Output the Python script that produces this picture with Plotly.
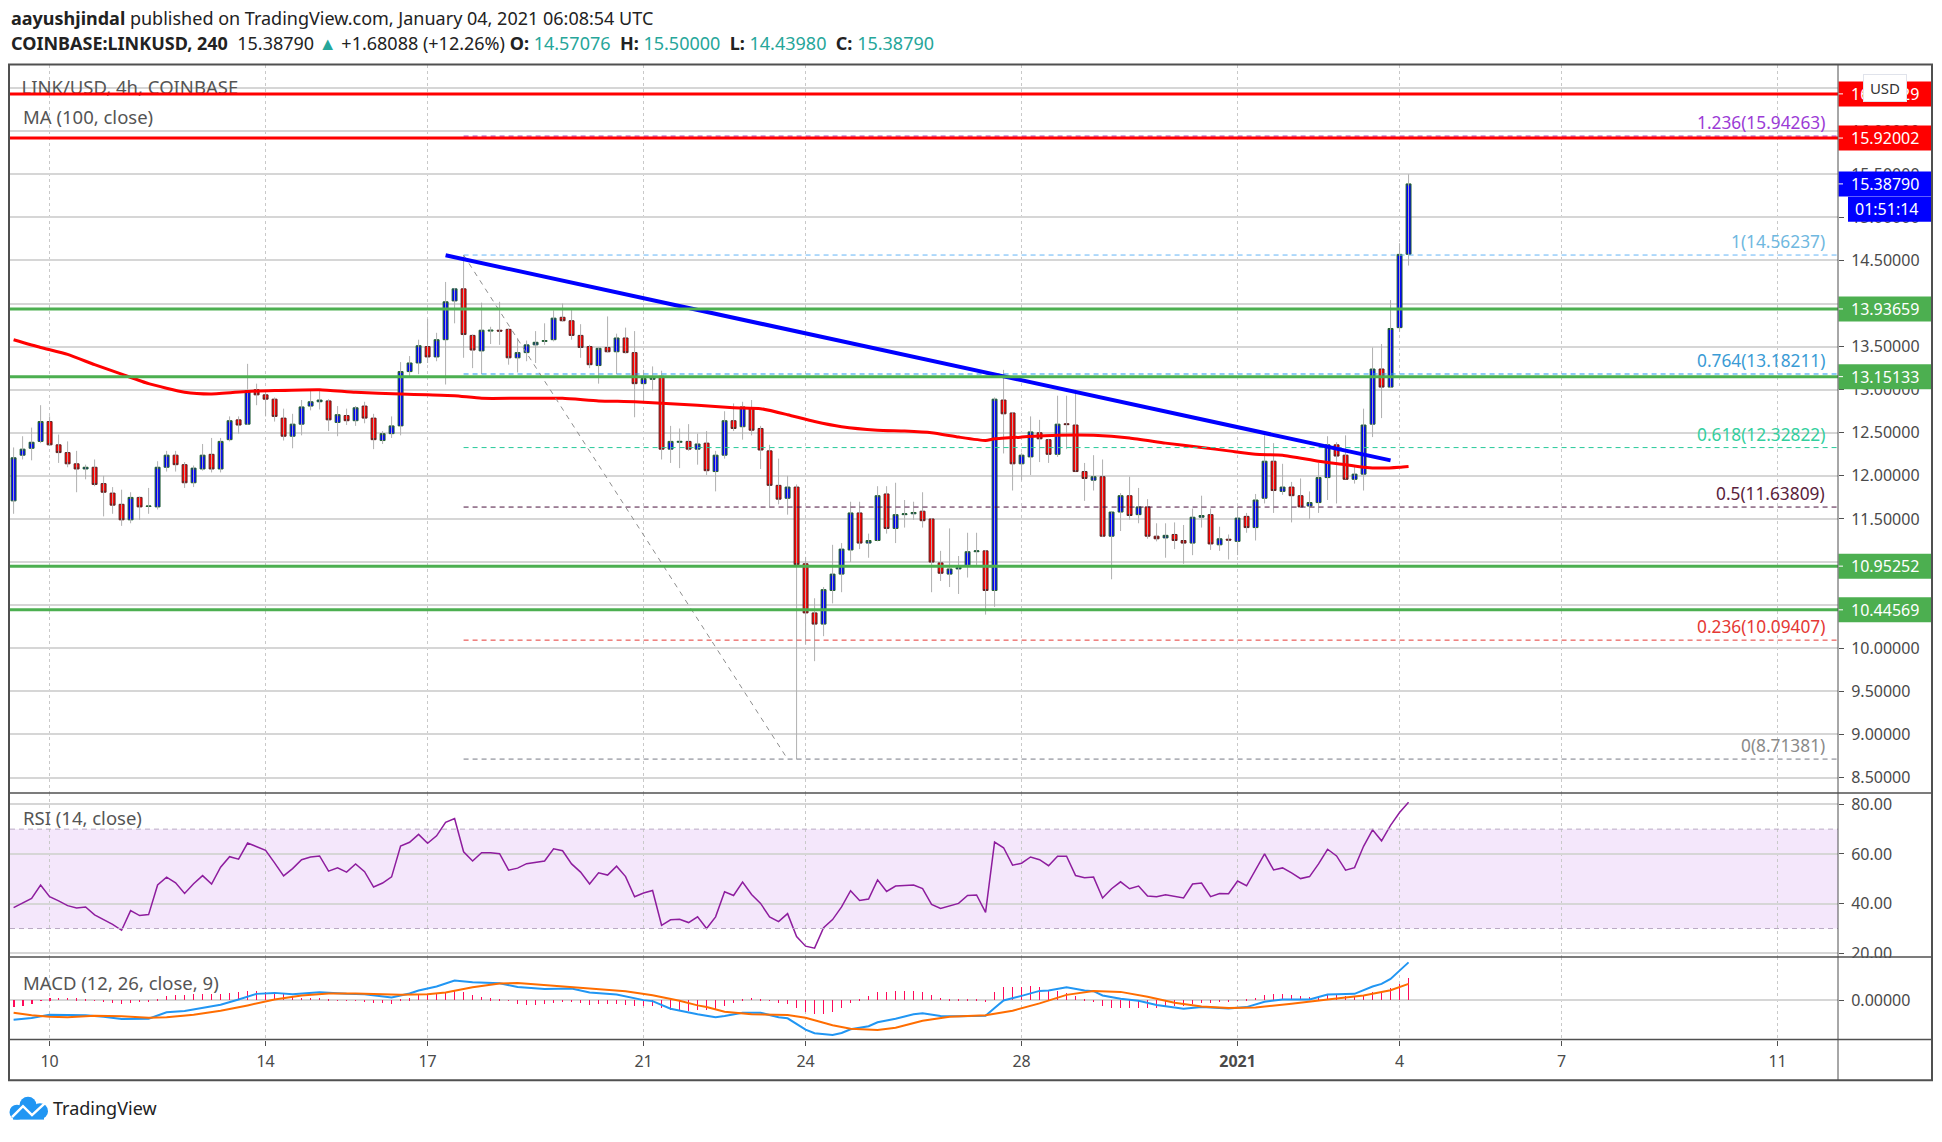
import pandas as pd
import plotly.graph_objects as go

W, H = 1942, 1142
FONT = "Noto Sans"
GREY_TEXT = "#4a4a4a"
UP_FILL, DOWN_FILL = "#0000ff", "#ff0000"
TEAL = "#26a69a"

bar_times = pd.date_range("2020-12-09 08:00", periods=156, freq="4h")

bar_open = [
    11.71, 12.24, 12.32, 12.40, 12.63, 12.36, 12.27, 12.14, 12.08, 12.10,
    11.91, 11.80, 11.67, 11.49, 11.75, 11.645, 11.64, 12.10, 12.24, 12.13,
    11.92, 12.08, 12.25, 12.08, 12.42, 12.65, 12.60, 13.00, 12.94, 12.89,
    12.67, 12.46, 12.60, 12.81, 12.86, 12.87, 12.62, 12.70, 12.64, 12.81,
    12.67, 12.41, 12.49, 12.58, 13.21, 13.31, 13.50, 13.38, 13.58, 14.03,
    14.17, 13.63, 13.45, 13.68, 13.69, 13.70, 13.37, 13.43, 13.52, 13.56,
    13.58, 13.84, 13.80, 13.63, 13.50, 13.28, 13.49, 13.44, 13.60, 13.43,
    13.07, 13.12, 13.155, 12.31, 12.39, 12.40, 12.31, 12.38, 12.05, 12.24,
    12.64, 12.57, 12.79, 12.55, 12.29, 11.89, 11.74, 11.87, 10.98, 10.41,
    10.28, 10.67, 10.86, 11.14, 11.57, 11.22, 11.25, 11.79, 11.39, 11.55,
    11.56, 11.59, 11.50, 10.99, 10.86, 10.92, 10.96, 11.12, 11.13, 10.67,
    12.88, 12.73, 12.14, 12.22, 12.50, 12.42, 12.25, 12.605, 12.59, 12.05,
    11.95, 11.99, 11.30, 11.58, 11.77, 11.55, 11.64, 11.30, 11.28, 11.32,
    11.25, 11.22, 11.52, 11.55, 11.20, 11.265, 11.24, 11.53, 11.40, 11.74,
    12.17, 11.82, 11.87, 11.77, 11.65, 11.69, 11.98, 12.36, 12.24, 11.96,
    12.02, 12.60, 13.24, 13.03, 13.72, 14.57076,
]
bar_high = [
    12.33, 12.46, 12.56, 12.82, 12.69, 12.48, 12.40, 12.29, 12.13, 12.19,
    12.00, 11.87, 11.84, 11.81, 11.76, 11.86, 12.17, 12.29, 12.29, 12.16,
    12.12, 12.37, 12.44, 12.44, 12.69, 12.69, 13.30, 13.07, 13.00, 12.91,
    12.78, 12.72, 12.88, 12.99, 13.00, 12.89, 12.81, 12.78, 12.81, 12.86,
    12.72, 12.52, 12.69, 13.32, 13.39, 13.58, 13.82, 13.66, 14.25, 14.18,
    14.56, 13.64, 14.01, 13.73, 14.02, 13.71, 13.60, 13.57, 13.68, 13.77,
    13.92, 14.00, 13.93, 13.76, 13.52, 13.49, 13.85, 13.65, 13.72, 13.68,
    13.23, 13.27, 13.22, 12.58, 12.55, 12.60, 12.49, 12.52, 12.29, 12.75,
    12.84, 12.86, 12.88, 12.58, 12.36, 12.20, 12.00, 11.90, 11.06, 10.58,
    10.71, 11.20, 11.22, 11.70, 11.70, 11.33, 11.88, 11.88, 11.92, 11.72,
    11.70, 11.81, 11.51, 11.13, 11.39, 11.07, 11.34, 11.34, 11.14, 12.91,
    13.23, 12.74, 12.27, 12.69, 12.65, 12.43, 12.93, 12.93, 13.00, 12.15,
    12.24, 12.19, 11.58, 11.80, 11.99, 11.86, 11.73, 11.45, 11.45, 11.46,
    11.43, 11.62, 11.77, 11.62, 11.41, 11.32, 11.64, 11.57, 11.79, 12.47,
    12.38, 12.14, 11.93, 11.97, 11.82, 12.15, 12.46, 12.39, 12.47, 12.12,
    12.78, 13.49, 13.53, 14.04, 14.70, 15.50,
]
bar_low = [
    11.56, 12.19, 12.18, 12.38, 12.35, 12.15, 12.10, 11.81, 11.96, 11.88,
    11.53, 11.56, 11.42, 11.45, 11.49, 11.56, 11.61, 12.05, 12.05, 11.86,
    11.87, 12.06, 12.04, 12.04, 12.40, 12.49, 12.59, 12.82, 12.69, 12.63,
    12.41, 12.32, 12.47, 12.76, 12.77, 12.52, 12.46, 12.59, 12.58, 12.61,
    12.31, 12.37, 12.44, 12.47, 13.14, 13.18, 13.31, 13.33, 13.06, 13.77,
    13.37, 13.25, 13.18, 13.53, 13.52, 13.29, 13.20, 13.33, 13.31, 13.52,
    13.56, 13.79, 13.58, 13.37, 13.25, 13.07, 13.43, 13.18, 13.42, 12.68,
    12.85, 12.99, 12.19, 12.15, 12.09, 12.29, 12.13, 12.01, 11.82, 12.20,
    12.52, 12.42, 12.47, 12.08, 11.63, 11.67, 11.55, 8.71, 10.04, 9.85,
    10.14, 10.52, 10.65, 11.00, 11.15, 11.05, 11.24, 11.33, 11.22, 11.40,
    11.49, 11.40, 10.65, 10.78, 10.71, 10.63, 10.82, 10.95, 10.39, 10.48,
    12.26, 11.83, 11.95, 12.01, 12.16, 12.15, 12.22, 12.31, 12.05, 11.71,
    11.83, 11.29, 10.80, 11.36, 11.49, 11.45, 11.27, 11.24, 11.05, 11.15,
    10.98, 11.08, 11.40, 11.14, 11.13, 11.03, 11.08, 11.34, 11.25, 11.68,
    11.57, 11.78, 11.46, 11.63, 11.50, 11.57, 11.72, 11.68, 11.96, 11.91,
    11.83, 12.45, 12.67, 13.02, 13.67, 14.4398,
]
bar_close = [
    12.21, 12.31, 12.39, 12.63, 12.36, 12.27, 12.14, 12.08, 12.10, 11.90,
    11.81, 11.66, 11.49, 11.75, 11.64, 11.65, 12.10, 12.24, 12.13, 11.92,
    12.09, 12.24, 12.08, 12.40, 12.64, 12.59, 12.99, 12.94, 12.89, 12.69,
    12.46, 12.60, 12.80, 12.86, 12.88, 12.65, 12.71, 12.64, 12.79, 12.67,
    12.42, 12.49, 12.58, 13.21, 13.31, 13.51, 13.38, 13.58, 14.02, 14.17,
    13.64, 13.46, 13.69, 13.69, 13.68, 13.37, 13.43, 13.52, 13.55, 13.57,
    13.83, 13.80, 13.63, 13.49, 13.29, 13.48, 13.44, 13.60, 13.43, 13.07,
    13.13, 13.14, 12.31, 12.40, 12.40, 12.31, 12.37, 12.06, 12.24, 12.64,
    12.55, 12.80, 12.53, 12.30, 11.89, 11.73, 11.87, 10.97, 10.41, 10.28,
    10.68, 10.86, 11.15, 11.57, 11.22, 11.25, 11.77, 11.39, 11.55, 11.56,
    11.575, 11.48, 11.00, 10.87, 10.92, 10.94, 11.12, 11.13, 10.67, 12.89,
    12.72, 12.14, 12.24, 12.51, 12.43, 12.25, 12.60, 12.595, 12.05, 11.97,
    11.99, 11.30, 11.58, 11.77, 11.54, 11.64, 11.30, 11.27, 11.31, 11.25,
    11.22, 11.52, 11.54, 11.21, 11.27, 11.255, 11.51, 11.40, 11.72, 12.17,
    11.83, 11.87, 11.77, 11.64, 11.69, 11.98, 12.36, 12.23, 11.96, 12.02,
    12.59, 13.24, 13.03, 13.71, 14.57, 15.3879,
]

# moving average, read where the line visibly changes direction
ma_bars = [
    0, 3, 6, 9, 12, 15, 19, 22, 26, 29, 34, 38, 43, 46, 49, 52, 56, 61, 65, 69, 76,
    80, 83, 86, 89, 92, 96, 99, 102, 105, 108, 109, 112, 116, 120, 124, 128, 132,
    135, 138, 141, 145, 148, 150, 152, 154, 155,
]
ma_values = [
    13.58, 13.49, 13.41, 13.29, 13.18, 13.07, 12.97, 12.95, 12.98, 12.99, 13.00,
    12.97, 12.95, 12.94, 12.93, 12.90, 12.90, 12.90, 12.87, 12.86, 12.82,
    12.79, 12.78, 12.71, 12.63, 12.57, 12.53, 12.52, 12.50, 12.45, 12.41, 12.43,
    12.45, 12.47, 12.47, 12.44, 12.38, 12.33, 12.29, 12.25, 12.24, 12.17, 12.13,
    12.10, 12.09, 12.10, 12.11,
]

rsi_values = [
    38.4, 40.4, 42.1, 47.5, 42.8, 41.1, 39.2, 38.3, 38.7, 35.5,
    33.7, 31.7, 29.3, 37.2, 35.2, 35.6, 47.5, 50.7, 48.4, 44.1,
    48.0, 51.3, 47.9, 54.7, 58.9, 57.9, 64.4, 62.9, 61.5, 56.4,
    51.2, 54.1, 57.7, 58.8, 59.2, 53.1, 54.4, 52.7, 56.0, 52.9,
    46.7, 48.3, 50.8, 63.2, 64.7, 67.9, 64.3, 67.3, 72.7, 74.3,
    60.9, 57.2, 60.5, 60.5, 60.1, 53.5, 54.3, 56.1, 56.7, 57.2,
    62.1, 61.3, 56.0, 52.7, 47.9, 52.4, 51.5, 55.1, 50.9, 42.8,
    44.3, 45.3, 31.3, 33.5, 33.7, 32.4, 34.7, 30.0, 34.7, 44.8,
    43.3, 48.7, 43.7, 40.1, 34.7, 32.8, 36.0, 26.8, 22.9, 22.1,
    30.3, 33.6, 38.7, 45.2, 41.3, 41.9, 49.6, 44.9, 47.1, 47.2,
    47.5, 46.1, 39.7, 38.1, 39.1, 40.1, 43.3, 43.5, 36.5, 64.8,
    62.5, 55.5, 56.3, 58.8, 57.7, 55.3, 59.1, 59.1, 51.3, 50.4,
    50.7, 42.3, 46.0, 48.8, 46.0, 47.1, 43.1, 42.8, 43.6, 42.8,
    42.3, 47.9, 48.3, 42.8, 44.1, 44.0, 49.1, 47.2, 53.6, 60.0,
    53.6, 54.4, 52.4, 50.1, 50.9, 56.0, 61.9, 59.2, 53.5, 54.5,
    63.1, 69.7, 65.3, 71.5, 76.7, 80.8,
]

macd_bars = [
    0, 2, 4, 6, 8, 10, 12, 15, 17, 19, 21, 23, 25, 27, 29, 31, 34, 37, 39, 41, 42,
    44, 45, 47, 49, 51, 54, 56, 59, 62, 64, 67, 68, 70, 71, 73, 76,
    78, 79, 81, 83, 85, 86, 88, 89, 91, 92, 93, 95, 96, 98, 100, 101, 103, 105,
    108, 109, 110, 112, 114, 115, 117, 119, 120, 121, 123, 125, 127, 130, 132,
    135, 137, 139, 141, 144, 146, 149, 151, 152, 153, 154, 155,
]
macd_values = [
    -0.197, -0.180, -0.147, -0.147, -0.153, -0.167, -0.190, -0.187, -0.123, -0.110,
    -0.080, -0.047, 0.007, 0.063, 0.073, 0.060, 0.080, 0.063, 0.060, 0.033, 0.027,
    0.067, 0.097, 0.137, 0.197, 0.180, 0.170, 0.133, 0.113, 0.117, 0.077, 0.057,
    0.037, 0.000, -0.010, -0.087, -0.143,
    -0.173, -0.160, -0.127, -0.127, -0.173, -0.183, -0.297, -0.333, -0.350, -0.330,
    -0.293, -0.263, -0.223, -0.187, -0.143, -0.133, -0.160, -0.163,
    -0.157, -0.080, -0.003, 0.043, 0.093, 0.097, 0.130, 0.097, 0.090, 0.047, 0.013,
    -0.007, -0.050, -0.087, -0.070, -0.083, -0.070, -0.017, 0.007, 0.007, 0.057,
    0.063, 0.137, 0.163, 0.213, 0.297, 0.380,
]
signal_bars = [
    0, 2, 4, 6, 9, 12, 15, 17, 20, 23, 26, 29, 32, 35, 38, 41, 43, 46, 48, 51, 54,
    56, 60, 64, 68, 71, 74, 76, 77, 79, 82, 86, 88, 91, 93, 96, 98, 101, 104, 108,
    111, 114, 117, 120, 123, 126, 129, 132, 135, 138, 142, 146, 150, 153, 155,
]
signal_values = [
    -0.127, -0.153, -0.167, -0.173, -0.157, -0.163, -0.177, -0.173, -0.147, -0.107,
    -0.053, 0.007, 0.047, 0.067, 0.067, 0.060, 0.053, 0.060, 0.077, 0.130, 0.167,
    0.173, 0.143, 0.113, 0.090, 0.050, -0.007, -0.053, -0.070, -0.117, -0.143,
    -0.150, -0.177, -0.253, -0.287, -0.300, -0.277, -0.207, -0.167, -0.153,
    -0.107, -0.033, 0.053, 0.093, 0.083, 0.033, -0.027, -0.063, -0.080, -0.073,
    -0.037, 0.007, 0.047, 0.100, 0.163,
]
hist_values = [
    -0.070, -0.057, -0.037, -0.003, 0.017, 0.023, 0.023, 0.020, 0.010, -0.007,
    -0.017, -0.027, -0.037, -0.030, -0.023, -0.013, 0.010, 0.043, 0.053, 0.053,
    0.057, 0.063, 0.063, 0.063, 0.073, 0.077, 0.093, 0.093, 0.083, 0.077,
    0.057, 0.030, 0.023, 0.023, 0.023, 0.013, -0.002, -0.003, -0.003, -0.017,
    -0.027, -0.033, -0.037, 0.003, 0.020, 0.047, 0.063, 0.070, 0.080, 0.093,
    0.083, 0.053, 0.030, 0.020, 0.003, -0.007, -0.043, -0.047, -0.047, -0.037,
    -0.027, -0.020, -0.023, -0.027, -0.047, -0.043, -0.043, -0.040, -0.047, -0.057,
    -0.060, -0.057, -0.083, -0.103, -0.110, -0.110, -0.097, -0.097, -0.087, -0.057,
    -0.027, 0.013, 0.023, 0.013, -0.003, -0.027, -0.037, -0.077, -0.117, -0.143,
    -0.137, -0.117, -0.077, -0.027, 0.010, 0.043, 0.083, 0.083, 0.090, 0.093,
    0.093, 0.083, 0.053, 0.023, 0.013, 0.007, 0.003, 0.013, -0.017, 0.083,
    0.133, 0.133, 0.133, 0.143, 0.133, 0.093, 0.093, 0.073, 0.043, 0.013,
    -0.017, -0.057, -0.077, -0.077, -0.077, -0.077, -0.077, -0.077, -0.067, -0.057,
    -0.057, -0.037, -0.027, -0.027, -0.017, -0.017, -0.003, 0.013, 0.023, 0.053,
    0.063, 0.063, 0.053, 0.043, 0.033, 0.033, 0.053, 0.053, 0.043, 0.033,
    0.043, 0.080, 0.093, 0.123, 0.163, 0.223,
]

fib_levels = ["1.236", "1", "0.764", "0.618", "0.5", "0.236", "0"]
fib_prices = [15.94263, 14.56237, 13.18211, 12.32822, 11.63809, 10.09407, 8.71381]
fib_lines = ["#9c27b0", "#64b5f6", "#2196f3", "#26c99a", "#4a123c", "#e53935", "#787b86"]
fib_labels = ["#9b3bd6", "#6fb8e0", "#3a9bd5", "#35cf9e", "#5a1e3c", "#e53935", "#8a8a8a"]

resistance_prices = [16.43, 15.92002]
support_prices = [13.93659, 13.15133, 10.95252, 10.44569]

date_ticks = ["2020-12-10", "2020-12-14", "2020-12-17", "2020-12-21", "2020-12-24",
              "2020-12-28", "2021-01-01", "2021-01-04", "2021-01-07", "2021-01-11"]
date_labels = ["10", "14", "17", "21", "24", "28", "<b>2021</b>", "4", "7", "11"]

price_ticks = [8.5 + 0.5 * i for i in range(17)]

x_start, x_end = "2020-12-09 06:24", "2021-01-12 02:52"


def px_x(p):
    return p / W


def px_y(p):
    return 1 - p / H


fig = go.Figure()

# wicks are grey and the bodies have a dark edge, so they are separate traces
wick_x, wick_y = [], []
for t, lo, hi in zip(bar_times, bar_low, bar_high):
    wick_x += [t, t, None]
    wick_y += [lo, hi, None]

fig.add_trace(go.Scatter(x=wick_x, y=wick_y, mode="lines", yaxis="y",
                         line=dict(color="#b0b0b0", width=1), hoverinfo="skip"))
fig.add_trace(go.Candlestick(
    x=bar_times, open=bar_open, close=bar_close,
    high=[max(o, c) for o, c in zip(bar_open, bar_close)],
    low=[min(o, c) for o, c in zip(bar_open, bar_close)],
    yaxis="y", whiskerwidth=0,
    increasing=dict(fillcolor=UP_FILL, line=dict(color="#22602f", width=1)),
    decreasing=dict(fillcolor=DOWN_FILL, line=dict(color="#5c2020", width=1)),
))
fig.add_trace(go.Scatter(x=bar_times[ma_bars], y=ma_values, mode="lines", yaxis="y",
                         line=dict(color="#ff0000", width=3, shape="spline", smoothing=0.5),
                         hoverinfo="skip"))
fig.add_trace(go.Scatter(
    x=[bar_times[0] + pd.Timedelta(hours=3.5)], y=[16.48], yaxis="y",
    mode="text", text=["LINK/USD, 4h, COINBASE"], textposition="middle right",
    textfont=dict(family=FONT, size=18.5, color="#555555"), hoverinfo="skip",
))

fig.add_trace(go.Scatter(x=bar_times, y=rsi_values, mode="lines", yaxis="y2",
                         line=dict(color="#8e1d9e", width=1.5), hoverinfo="skip"))

fig.add_trace(go.Bar(x=bar_times, y=hist_values, yaxis="y3", width=1.3e6,
                     marker=dict(color="#ff0a5a", line=dict(width=0)), hoverinfo="skip"))
fig.add_trace(go.Scatter(x=bar_times[macd_bars], y=macd_values, mode="lines", yaxis="y3",
                         line=dict(color="#2196f3", width=2), hoverinfo="skip"))
fig.add_trace(go.Scatter(x=bar_times[signal_bars], y=signal_values, mode="lines", yaxis="y3",
                         line=dict(color="#ff6d00", width=2), hoverinfo="skip"))

shapes = []
annotations = []


def hline(price, color, width, dash="solid", yref="y"):
    shapes.append(dict(type="line", xref="x domain", yref=yref, x0=0, x1=1, y0=price, y1=price,
                       line=dict(color=color, width=width, dash=dash), layer="above"))


for level, price, line_color, label_color in zip(fib_levels, fib_prices, fib_lines, fib_labels):
    shapes.append(dict(type="line", xref="x", yref="y", x0=bar_times[50], x1=x_end,
                       y0=price, y1=price, line=dict(color=line_color, width=1, dash="5px,4px")))
    annotations.append(dict(xref="paper", yref="y", x=px_x(1827), y=price, xanchor="right",
                            yanchor="bottom", showarrow=False, text=f"{level}({price:.5f})",
                            font=dict(family=FONT, size=17.3, color=label_color)))

# fib anchor line, high to low
shapes.append(dict(type="line", xref="x", yref="y", x0=bar_times[50], x1=bar_times[86],
                   y0=fib_prices[1], y1=fib_prices[-1],
                   line=dict(color="#8f8f8f", width=1, dash="5px,5px")))

# trend line
shapes.append(dict(type="line", xref="x", yref="y", x0=bar_times[48], x1=bar_times[153],
                   y0=14.56, y1=12.18, line=dict(color="#0000ff", width=4), layer="above"))

for price in resistance_prices:
    hline(price, "#ff0000", 3)
for price in support_prices:
    hline(price, "#4caf50", 3)

# RSI band
shapes.append(dict(type="rect", xref="x domain", yref="y2", x0=0, x1=1, y0=30, y1=70,
                   fillcolor="rgba(156,39,220,0.11)", line=dict(width=0), layer="below"))
hline(70, "#b9a9c4", 1, "5px,4px", "y2")
hline(30, "#b9a9c4", 1, "5px,4px", "y2")

# boxes on the price scale
boxes = [(16.43229, "#ff0000", "16.43229"), (15.92002, "#ff0000", "15.92002"),
         (15.3879, "#0000ff", "15.38790"), (13.93659, "#4caf50", "13.93659"),
         (13.15133, "#4caf50", "13.15133"), (10.95252, "#4caf50", "10.95252"),
         (10.44569, "#4caf50", "10.44569")]
for price, color, label in boxes:
    shapes.append(dict(type="rect", xref="paper", yref="y", ysizemode="pixel", yanchor=price,
                       x0=px_x(1838.5), x1=px_x(1932), y0=-12.5, y1=12.5,
                       fillcolor=color, line=dict(width=0), layer="above"))
    shapes.append(dict(type="line", xref="paper", yref="y", x0=px_x(1838), x1=px_x(1843),
                       y0=price, y1=price, line=dict(color="white", width=1), layer="above"))
    annotations.append(dict(xref="paper", yref="y", x=px_x(1885), y=price, showarrow=False,
                            xanchor="center", yanchor="middle", text=label,
                            font=dict(family=FONT, size=16, color="white")))

# countdown under the last price
shapes.append(dict(type="rect", xref="paper", yref="paper", x0=px_x(1848), x1=px_x(1932),
                   y0=px_y(223), y1=px_y(198), fillcolor="#0000ff", line=dict(width=0), layer="above"))
annotations.append(dict(xref="paper", yref="paper", x=px_x(1887), y=px_y(210.5), showarrow=False,
                        xanchor="center", yanchor="middle", text="01:51:14",
                        font=dict(family=FONT, size=16, color="white")))

# 20.00 is cut by the MACD pane
shapes.append(dict(type="rect", xref="paper", yref="paper", x0=px_x(1839), x1=px_x(1931),
                   y0=px_y(985), y1=px_y(964), fillcolor="white", line=dict(width=0), layer="above"))

# frame and pane separators
for y_px in [798, 963, 1046]:
    shapes.append(dict(type="line", xref="paper", yref="paper", x0=px_x(10), x1=px_x(1932),
                       y0=px_y(y_px), y1=px_y(y_px), line=dict(color="#505050", width=1.5), layer="above"))
shapes.append(dict(type="line", xref="paper", yref="paper", x0=px_x(1838), x1=px_x(1838),
                   y0=px_y(65), y1=px_y(1087), line=dict(color="#505050", width=1), layer="above"))
shapes.append(dict(type="rect", xref="paper", yref="paper", x0=px_x(9), x1=px_x(1932),
                   y0=px_y(1087), y1=px_y(65), line=dict(color="#505050", width=2), layer="above"))

# TradingView logo
for cx, cy, r in [(28, 1112, 8.5), (17, 1119, 7.5), (40, 1118, 8)]:
    shapes.append(dict(type="circle", xref="paper", yref="paper", x0=px_x(cx - r), x1=px_x(cx + r),
                       y0=px_y(cy + r), y1=px_y(cy - r), fillcolor="#2196f3", line=dict(width=0)))
shapes.append(dict(type="rect", xref="paper", yref="paper", x0=px_x(13), x1=px_x(44),
                   y0=px_y(1126.5), y1=px_y(1116), fillcolor="#2196f3", line=dict(width=0)))
zigzag = [(12, 1124), (23, 1113), (32, 1122), (45, 1110)]
path = "M " + " L ".join(f"{px_x(a):.5f},{px_y(b):.5f}" for a, b in zigzag)
shapes.append(dict(type="path", xref="paper", yref="paper", path=path,
                   line=dict(color="white", width=2.5)))


def page_text(x, y, text, size=18.5, color=GREY_TEXT):
    annotations.append(dict(xref="paper", yref="paper", x=px_x(x), y=px_y(y), xanchor="left",
                            yanchor="middle", showarrow=False, text=text, align="left",
                            font=dict(family=FONT, size=size, color=color)))


def teal(text):
    return f'<span style="color:{TEAL}">{text}</span>'


GAP = "\u00a0"
page_text(9, 18, "<b>aayushjindal</b> published on TradingView.com, January 04, 2021 06:08:54 UTC",
          size=18, color="#222222")
page_text(9, 43, "<b>COINBASE:LINKUSD, 240</b>" + GAP * 2 + "15.38790" + GAP + teal("▲") + GAP
          + "+1.68088 (+12.26%)" + GAP + "<b>O:</b>" + GAP + teal("14.57076")
          + GAP * 2 + "<b>H:</b>" + GAP + teal("15.50000")
          + GAP * 2 + "<b>L:</b>" + GAP + teal("14.43980")
          + GAP * 2 + "<b>C:</b>" + GAP + teal("15.38790"), size=18, color="#222222")
page_text(21, 117, "MA (100, close)", color="#555555")
page_text(21, 823, "RSI (14, close)", color="#555555")
page_text(21, 989, "MACD (12, 26, close, 9)", color="#555555")
page_text(51, 1115, "TradingView", size=18, color="#222222")

annotations.append(dict(xref="paper", yref="paper", x=px_x(1885), y=px_y(88.5), showarrow=False,
                        xanchor="center", yanchor="middle", text="USD", width=38, height=22,
                        bgcolor="white", bordercolor="#e0e3eb", borderwidth=1, borderpad=2,
                        font=dict(family=FONT, size=15, color="#333333")))

axis_common = dict(side="right", anchor="x", showline=False, ticks="outside", ticklen=5,
                   tickcolor="#505050", gridcolor="#d6d6d6", gridwidth=1.5, zeroline=False,
                   tickfont=dict(family=FONT, size=16, color=GREY_TEXT), ticklabelstandoff=4)

fig.update_layout(
    width=W, height=H, margin=dict(l=0, r=0, t=0, b=0), autosize=False,
    paper_bgcolor="white", plot_bgcolor="white", showlegend=False, bargap=0, boxgap=0.22,
    xaxis=dict(type="date", domain=[px_x(10), px_x(1838)], anchor="y3",
               range=[x_start, x_end], rangeslider=dict(visible=False),
               tickmode="array", tickvals=date_ticks, ticktext=date_labels, ticks="outside",
               ticklen=5, tickcolor="#505050", showgrid=True, gridcolor="#c9c9c9", griddash="dot",
               gridwidth=1, zeroline=False, showline=False,
               tickfont=dict(family=FONT, size=16, color=GREY_TEXT), ticklabelstandoff=2),
    yaxis=dict(domain=[px_y(798), px_y(65)], range=[8.319, 16.772], tickmode="array",
               tickvals=price_ticks, tickformat=".5f", **axis_common),
    yaxis2=dict(domain=[px_y(963), px_y(798)], range=[18.5, 84.5], tickmode="array",
                tickvals=[20, 40, 60, 80], tickformat=".2f", **axis_common),
    yaxis3=dict(domain=[px_y(1046), px_y(963)], range=[-0.397, 0.433], tickmode="array",
                tickvals=[0], tickformat=".5f", **axis_common),
    shapes=shapes,
    annotations=annotations,
)

fig.write_html("out.html", config={"displayModeBar": False},
               post_script="document.body.style.margin='0';document.body.style.overflow='hidden';")
